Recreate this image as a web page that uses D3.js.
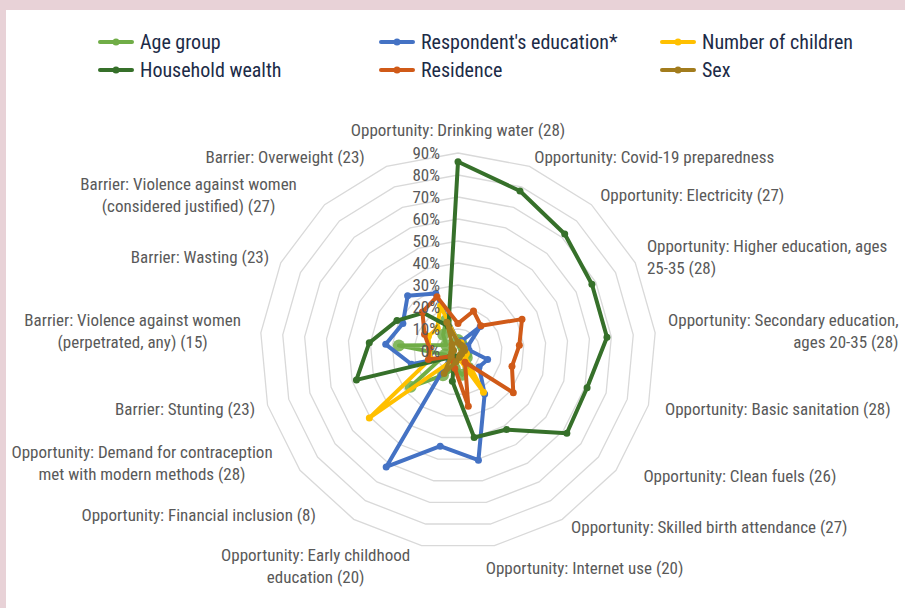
<!DOCTYPE html>
<html>
<head>
<meta charset="utf-8">
<script src="https://cdn.jsdelivr.net/npm/d3@7"></script>
<style>
  html, body { margin: 0; padding: 0; background: #e8d2d7; }
  svg { display: block; }
  text { font-family: "Liberation Sans Narrow", "Arial Narrow", "Roboto Condensed", "DejaVu Sans Condensed", sans-serif; }
</style>
</head>
<body>
<script>
// axis categories (clockwise from the top)
var categories = [
  "Opportunity: Drinking water (28)",
  "Opportunity: Covid-19 preparedness",
  "Opportunity: Electricity (27)",
  "Opportunity: Higher education, ages|25-35 (28)",
  "Opportunity: Secondary education,|ages 20-35 (28)",
  "Opportunity: Basic sanitation (28)",
  "Opportunity: Clean fuels (26)",
  "Opportunity: Skilled birth attendance  (27)",
  "Opportunity: Internet use (20)",
  "Opportunity: Early childhood|education (20)",
  "Opportunity: Financial inclusion (8)",
  "Opportunity: Demand for contraception|met with modern methods (28)",
  "Barrier: Stunting (23)",
  "Barrier: Violence against women|(perpetrated, any) (15)",
  "Barrier: Wasting (23)",
  "Barrier: Violence against women|(considered justified) (27)",
  "Barrier: Overweight (23)"
];

var tickValues = [0, 10, 20, 30, 40, 50, 60, 70, 80, 90];

// series values, percent
var ageGroup       = [5, 4, 3, 3, 3, 4, 5, 9, 11, 8, 13, 27, 6, 27, 6, 10, 15];
var education      = [4, 5, 15, 5, 5, 14, 12, 23, 50.5, 44, 62, 4, 22, 33, 28, 34, 28];
var children       = [4, 4, 3, 3, 3, 4, 4, 22, 4, 4, 5, 50.5, 13, 13, 15, 14, 22];
var wealth         = [86, 78, 72, 68, 68, 61, 62, 42, 40, 14, 3, 5, 48, 40.5, 31, 23.5, 12];
var residence      = [12.5, 19.5, 15.5, 32.5, 28, 25.5, 31.5, 6, 25.5, 8, 5, 4, 14, 13, 17, 24, 26.5];
var sex            = [4, 3, 3, 3, 3, 2, 2, 2, 3, 5, 12, 4, 3, 2, 3, 4, 14];

var seriesNames  = ["Age group", "Respondent's education*", "Number of children", "Household wealth", "Residence", "Sex"];
var seriesValues = [ageGroup, education, children, wealth, residence, sex];
var seriesColors = ["#70ad47", "#4472c4", "#ffc000", "#36702a", "#d05a18", "#a27c1d"];

var width = 905, height = 608;
var cx = 458, cy = 351;

var svg = d3.select("body").append("svg")
  .attr("width", width)
  .attr("height", height);

// white panel
svg.append("rect")
  .attr("x", 6).attr("y", 10)
  .attr("width", width - 6).attr("height", height - 10)
  .attr("fill", "#ffffff");

var angle = d3.scalePoint()
  .domain(d3.range(categories.length))
  .range([0, 2 * Math.PI * (categories.length - 1) / categories.length]);

var r = d3.scaleLinear().domain([0, 90]).range([0, 198]);

var g = svg.append("g").attr("transform", "translate(" + cx + "," + cy + ")");

// grid rings
var ring = d3.lineRadial()
  .angle(function(d, i) { return angle(i); })
  .radius(function(d) { return r(d); })
  .curve(d3.curveLinearClosed);

g.selectAll("path.grid")
  .data(tickValues.slice(1))
  .enter().append("path")
  .attr("class", "grid")
  .attr("d", function(t) { return ring(categories.map(function() { return t; })); })
  .attr("fill", "none")
  .attr("stroke", "#d9d9d9")
  .attr("stroke-width", 1.3);

// series
var line = d3.lineRadial()
  .angle(function(d, i) { return angle(i); })
  .radius(function(d) { return r(d); })
  .curve(d3.curveLinearClosed);

seriesValues.forEach(function(vals, s) {
  var sg = g.append("g").attr("class", "series");
  sg.append("path")
    .attr("d", line(vals))
    .attr("fill", "none")
    .attr("stroke", seriesColors[s])
    .attr("stroke-width", 4)
    .attr("stroke-linejoin", "round");
  sg.selectAll("circle")
    .data(vals)
    .enter().append("circle")
    .attr("cx", function(d, i) { return r(d) * Math.sin(angle(i)); })
    .attr("cy", function(d, i) { return -r(d) * Math.cos(angle(i)); })
    .attr("r", s === 0 ? 6 : 3.5)
    .attr("fill", seriesColors[s])
    .attr("opacity", s === 0 ? 0.85 : 1);
});

// tick labels
g.selectAll("text.tick")
  .data(tickValues)
  .enter().append("text")
  .attr("class", "tick")
  .attr("x", -18)
  .attr("y", function(d) { return -r(d); })
  .attr("dy", "0.35em")
  .attr("text-anchor", "end")
  .attr("fill", "#595959")
  .style("font-size", "17px")
  .text(function(d) { return d + "%"; });

// category labels, placed on a circle past the outer ring (a few nudged like excel does)
var lineAlign = {3: "start", 4: "end"};
var labelNudge = {1: [0, 3], 5: [4, 0], 6: [17, -2], 7: [2, -3], 8: [-11, 10], 9: [-9, 8],
                  10: [-31, -15], 11: [-17, -15], 13: [-7, 0], 15: [-19, 0], 16: [-17, 3]};
var lineH = 22, labelR = 211;

categories.forEach(function(c, i) {
  var a = angle(i);
  var dx = Math.sin(a), dy = -Math.cos(a);
  var nudge = labelNudge[i] || [0, 0];
  var px = labelR * dx + nudge[0], py = labelR * dy + nudge[1];
  var lines = c.split("|");
  var lg = g.append("g").attr("class", "label");
  var texts = lines.map(function(t) {
    return lg.append("text")
      .attr("fill", "#595959")
      .style("font-size", "17px")
      .attr("dy", "0.35em")
      .text(t);
  });
  var widths = texts.map(function(t) { return t.node().getComputedTextLength(); });
  var bw = d3.max(widths);
  var left;
  if (Math.abs(dx) < 0.05) { left = px - bw / 2; py = -221; }
  else if (dx > 0) left = px;
  else left = px - bw;
  var top = py - (lines.length - 1) * lineH / 2;
  var al = lineAlign[i] || "middle";
  texts.forEach(function(t, k) {
    var x = al === "start" ? left : al === "end" ? left + bw : left + bw / 2;
    t.attr("x", x).attr("y", top + k * lineH).attr("text-anchor", al);
  });
});

// legend
var legendX = [100, 381, 662], legendY = [42, 70];
var legend = svg.selectAll("g.legend")
  .data(seriesNames)
  .enter().append("g")
  .attr("class", "legend")
  .attr("transform", function(d, i) { return "translate(" + legendX[i % 3] + "," + legendY[Math.floor(i / 3)] + ")"; });

legend.append("line")
  .attr("x1", 0).attr("x2", 32)
  .attr("stroke", function(d, i) { return seriesColors[i]; })
  .attr("stroke-width", 4)
  .attr("stroke-linecap", "round");
legend.append("circle")
  .attr("cx", 16).attr("r", 3.5)
  .attr("fill", function(d, i) { return seriesColors[i]; });
legend.append("text")
  .attr("x", 40)
  .attr("dy", "0.35em")
  .attr("fill", "#1c2b47")
  .style("font-size", "20px")
  .text(function(d) { return d; });
</script>
</body>
</html>
